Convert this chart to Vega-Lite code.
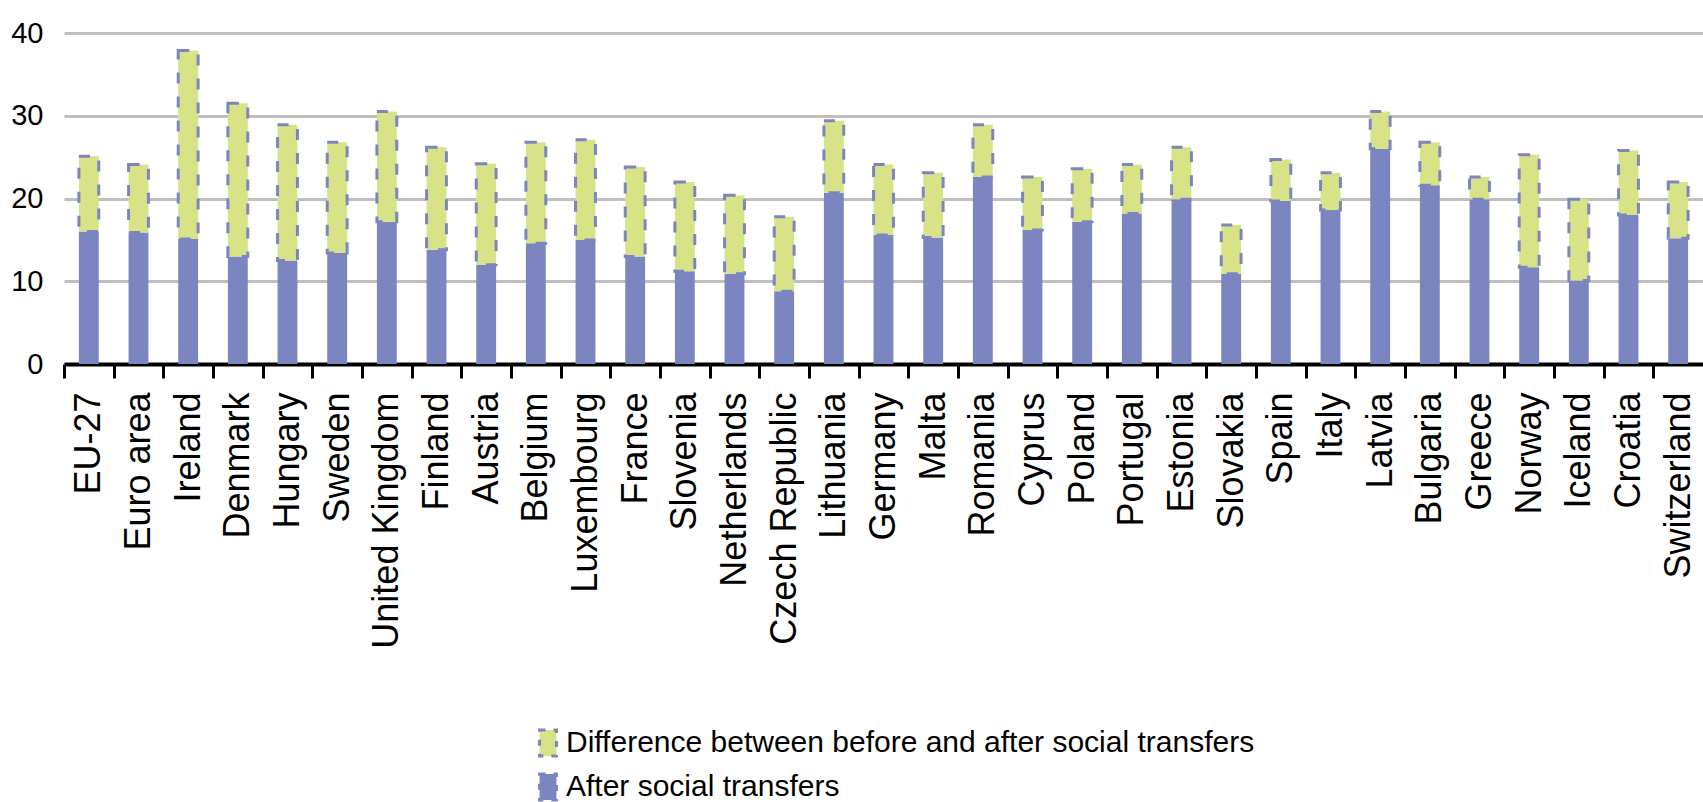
{
  "$schema": "https://vega.github.io/schema/vega-lite/v6.json",
  "width": 1639,
  "height": 331,
  "autosize": {"type": "none"},
  "padding": {"left": 64, "top": 33, "right": 0, "bottom": 438},
  "background": "white",
  "config": {
    "view": {"stroke": null},
    "font": "Liberation Sans"
  },
  "data": {
    "values": [
      {"country": "EU-27", "after": 16.0, "before": 25.1},
      {"country": "Euro area", "after": 15.9, "before": 24.1},
      {"country": "Ireland", "after": 15.1, "before": 37.9},
      {"country": "Denmark", "after": 13.0, "before": 31.5},
      {"country": "Hungary", "after": 12.5, "before": 28.9},
      {"country": "Sweden", "after": 13.4, "before": 26.8},
      {"country": "United Kingdom", "after": 17.2, "before": 30.5},
      {"country": "Finland", "after": 13.8, "before": 26.2},
      {"country": "Austria", "after": 12.0, "before": 24.2},
      {"country": "Belgium", "after": 14.6, "before": 26.8},
      {"country": "Luxembourg", "after": 15.0, "before": 27.1},
      {"country": "France", "after": 13.0, "before": 23.8},
      {"country": "Slovenia", "after": 11.2, "before": 22.0},
      {"country": "Netherlands", "after": 10.9, "before": 20.4},
      {"country": "Czech Republic", "after": 8.8, "before": 17.8},
      {"country": "Lithuania", "after": 20.7, "before": 29.4},
      {"country": "Germany", "after": 15.6, "before": 24.1},
      {"country": "Malta", "after": 15.3, "before": 23.1},
      {"country": "Romania", "after": 22.6, "before": 28.9},
      {"country": "Cyprus", "after": 16.2, "before": 22.6},
      {"country": "Poland", "after": 17.2, "before": 23.6},
      {"country": "Portugal", "after": 18.2, "before": 24.1},
      {"country": "Estonia", "after": 19.9, "before": 26.2},
      {"country": "Slovakia", "after": 10.9, "before": 16.8},
      {"country": "Spain", "after": 19.7, "before": 24.7},
      {"country": "Italy", "after": 18.6, "before": 23.1},
      {"country": "Latvia", "after": 26.0, "before": 30.5},
      {"country": "Bulgaria", "after": 21.6, "before": 26.8},
      {"country": "Greece", "after": 19.9, "before": 22.6},
      {"country": "Norway", "after": 11.7, "before": 25.3},
      {"country": "Iceland", "after": 10.1, "before": 19.9},
      {"country": "Croatia", "after": 18.0, "before": 25.8},
      {"country": "Switzerland", "after": 15.2, "before": 22.0}
    ]
  },
  "encoding": {
    "x": {
      "field": "country",
      "type": "nominal",
      "sort": null,
      "scale": {"paddingInner": 0.6, "paddingOuter": 0.3},
      "axis": {
        "title": null,
        "labelAngle": -90,
        "labelFontSize": 36,
        "labelColor": "black",
        "labelFont": "Liberation Sans",
        "labelLimit": 0,
        "labelPadding": 14,
        "labelOffset": 24.83,
        "tickOffset": -24.83,
        "tickColor": "black",
        "tickWidth": 3,
        "tickSize": 14,
        "domainColor": "black",
        "domainWidth": 4,
        "grid": false
      }
    }
  },
  "layer": [
    {
      "mark": {"type": "bar"},
      "encoding": {
        "y": {
          "field": "after",
          "type": "quantitative",
          "scale": {"domain": [0, 40], "nice": false},
          "axis": {
            "title": null,
            "values": [0, 10, 20, 30, 40],
            "domain": false,
            "ticks": false,
            "grid": true,
            "gridColor": "#BFBFBF",
            "gridWidth": 3,
            "labelFontSize": 29,
            "labelColor": "black",
            "labelPadding": 21,
            "labelFont": "Liberation Sans"
          }
        },
        "color": {
          "datum": "After social transfers",
          "scale": {
            "domain": ["Difference between before and after social transfers", "After social transfers"],
            "range": ["#D8E388", "#7B86C0"]
          },
          "legend": {
            "title": null,
            "orient": "none",
            "legendX": 469,
            "legendY": 695,
            "direction": "vertical",
            "padding": 0,
            "rowPadding": 6,
            "labelFontSize": 30,
            "labelColor": "black",
            "labelFont": "Liberation Sans",
            "labelOffset": 3,
            "labelLimit": 0,
            "symbolType": "M-0.65,-1H0.65V1H-0.65Z",
            "symbolSize": 676,
            "symbolStrokeColor": "#7B86C0",
            "symbolStrokeWidth": 3,
            "symbolDash": [6, 8],
            "symbolOpacity": 1
          }
        }
      }
    },
    {
      "mark": {"type": "bar", "stroke": "#7B86C0", "strokeWidth": 3, "strokeDash": [11, 13]},
      "encoding": {
        "y": {"field": "after", "type": "quantitative", "scale": {"domain": [0, 40], "nice": false}},
        "y2": {"field": "before"},
        "color": {"datum": "Difference between before and after social transfers"}
      }
    }
  ]
}
